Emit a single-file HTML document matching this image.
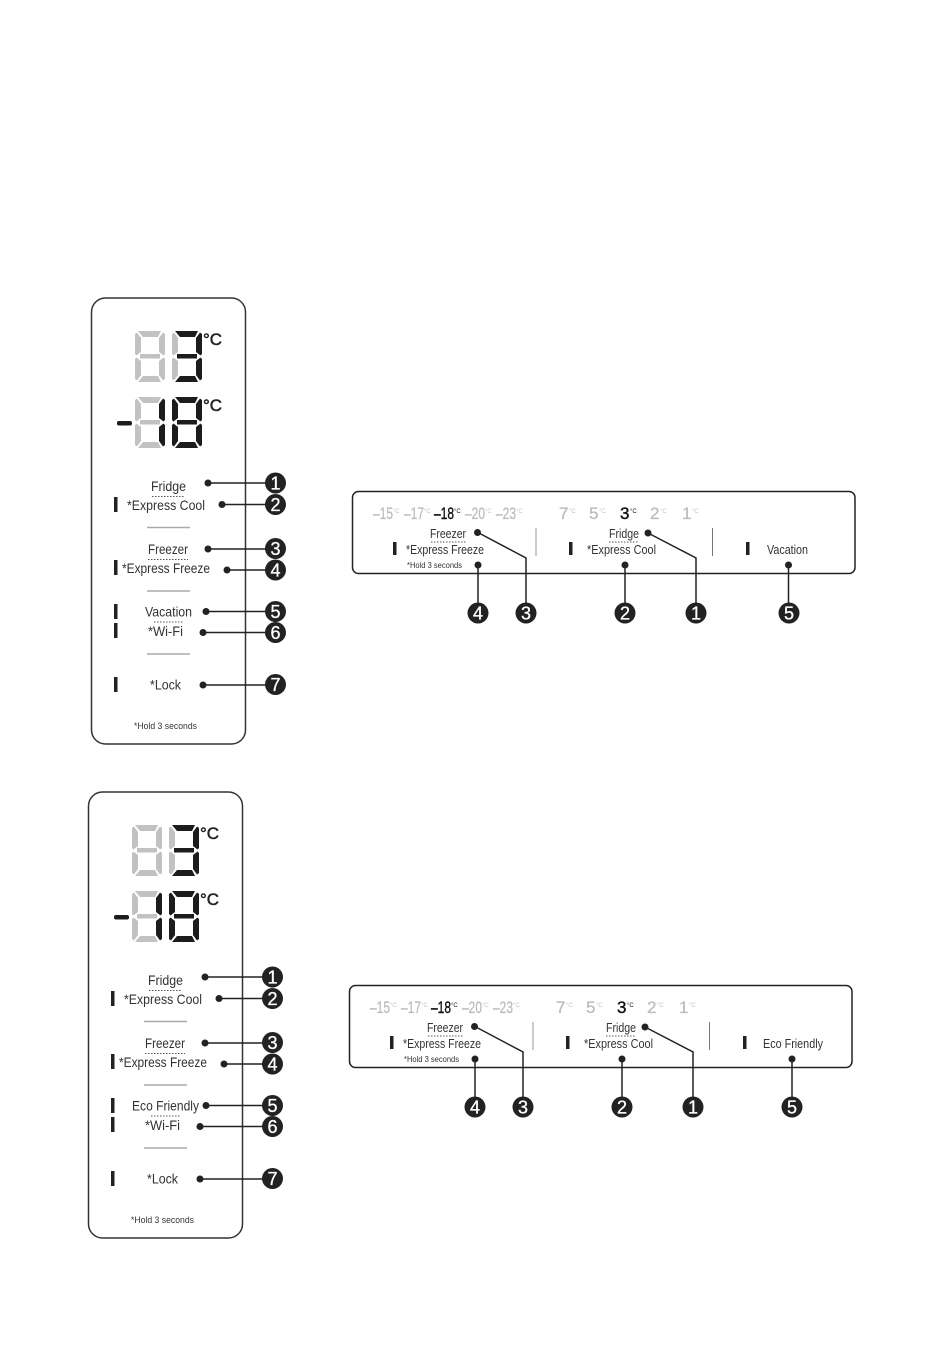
<!DOCTYPE html>
<html><head><meta charset="utf-8"><style>
html,body{margin:0;padding:0;background:#fff;width:950px;height:1366px;overflow:hidden}
svg{display:block}
text{font-family:"Liberation Sans",sans-serif;fill:#333}
.l{font-size:14px}.h{font-size:9px}.s{font-size:8px}.r{font-size:12.5px}
.g{font-size:17px;fill:#bcbcbc;stroke:#bcbcbc;stroke-width:.3}.gs{font-size:6px;fill:#c4c4c4}
.d{font-size:17px;fill:#111;stroke:#111;stroke-width:.4}.ds{font-size:6px;fill:#111}
.n{font-size:18px;fill:#fff;stroke:#fff;stroke-width:.3;text-anchor:middle}
.c{font-size:17px;fill:#222;stroke:#222;stroke-width:.5}
.ln{stroke:#222;stroke-width:1.5;fill:none}
.dot{stroke:#555;stroke-width:1;stroke-dasharray:1.5 1.5}
.sep{stroke:#aaa;stroke-width:1.5}
</style></head><body>
<svg width="950" height="1366" viewBox="0 0 950 1366" xmlns="http://www.w3.org/2000/svg">
<defs>
<polygon id="t" points="3,0 26,0 23,6 8,6"/>
<polygon id="b" points="8,45 23,45 26,51 3,51"/>
<rect id="m" x="5" y="23" width="20" height="4.500"/>
<polygon id="ul" points="0,3 2,1.500 6,7 6,21 1.500,24.500 0,23"/>
<polygon id="ll" points="0,28 1.500,26.500 6,30 6,44 2,49.500 0,48"/>
<polygon id="ur" points="30,3 28,1.500 24,7 24,21 28.500,24.500 30,23"/>
<polygon id="lr" points="30,28 28.500,26.500 24,30 24,44 28,49.500 30,48"/>
</defs>
<rect width="950" height="1366" fill="#fff"/>

<!-- GROUP 1 -->
<g>
<rect x="91.500" y="298" width="154" height="446" rx="14" fill="#fff" stroke="#333" stroke-width="1.500"/>
<g transform="translate(135,331)" fill="#c2c2c2"><use href="#t"/><use href="#b"/><use href="#m"/><use href="#ul"/><use href="#ll"/><use href="#ur"/><use href="#lr"/></g>
<g transform="translate(172,331)"><g fill="#c2c2c2"><use href="#ul"/><use href="#ll"/></g><g fill="#1c1c1c"><use href="#t"/><use href="#b"/><use href="#m"/><use href="#ur"/><use href="#lr"/></g></g>
<text x="203" y="345" class="c" textLength="19" lengthAdjust="spacingAndGlyphs">°C</text>
<rect x="117" y="421" width="15" height="4.500" rx="2" fill="#1c1c1c"/>
<g transform="translate(135,397)"><g fill="#c2c2c2"><use href="#t"/><use href="#b"/><use href="#m"/><use href="#ul"/><use href="#ll"/></g><g fill="#1c1c1c"><use href="#ur"/><use href="#lr"/></g></g>
<g transform="translate(172,397)" fill="#1c1c1c"><use href="#t"/><use href="#b"/><use href="#m"/><use href="#ul"/><use href="#ll"/><use href="#ur"/><use href="#lr"/></g>
<text x="203" y="411" class="c" textLength="19" lengthAdjust="spacingAndGlyphs">°C</text>

<text x="151" y="491" class="l" textLength="35" lengthAdjust="spacingAndGlyphs">Fridge</text>
<line x1="152" y1="496.500" x2="185" y2="496.500" class="dot"/>
<text x="127" y="510" class="l" textLength="78" lengthAdjust="spacingAndGlyphs">*Express Cool</text>
<line x1="147" y1="527.500" x2="190" y2="527.500" class="sep"/>
<text x="148" y="554" class="l" textLength="40" lengthAdjust="spacingAndGlyphs">Freezer</text>
<line x1="148" y1="559.500" x2="188" y2="559.500" class="dot"/>
<text x="122" y="573" class="l" textLength="88" lengthAdjust="spacingAndGlyphs">*Express Freeze</text>
<line x1="147" y1="591" x2="190" y2="591" class="sep"/>
<text x="145" y="616.500" class="l" textLength="47" lengthAdjust="spacingAndGlyphs">Vacation</text>
<line x1="154" y1="622" x2="183" y2="622" class="dot"/>
<text x="148" y="636" class="l" textLength="35" lengthAdjust="spacingAndGlyphs">*Wi-Fi</text>
<line x1="147" y1="654" x2="190" y2="654" class="sep"/>
<text x="150" y="689.500" class="l" textLength="31" lengthAdjust="spacingAndGlyphs">*Lock</text>
<text x="134" y="729" class="h" textLength="63" lengthAdjust="spacingAndGlyphs">*Hold 3 seconds</text>
<g fill="#222"><rect x="114" y="497" width="3.500" height="15"/><rect x="114" y="560" width="3.500" height="15"/><rect x="114" y="604" width="3.500" height="15"/><rect x="114" y="623" width="3.500" height="15"/><rect x="114" y="677" width="3.500" height="15"/>
<circle cx="208" cy="483" r="3.500"/><circle cx="222" cy="504.500" r="3.500"/><circle cx="208" cy="549" r="3.500"/><circle cx="227" cy="570" r="3.500"/><circle cx="206" cy="611.500" r="3.500"/><circle cx="203" cy="632.500" r="3.500"/><circle cx="203" cy="685" r="3.500"/>
<circle cx="275.500" cy="483" r="10.500"/><circle cx="275.500" cy="504.500" r="10.500"/><circle cx="275.500" cy="548.500" r="10.500"/><circle cx="275.500" cy="570" r="10.500"/><circle cx="275.500" cy="611.500" r="10.500"/><circle cx="275.500" cy="632.500" r="10.500"/><circle cx="275.500" cy="684.500" r="10.500"/></g>
<path class="ln" d="M208 483H270M222 504.500H270M208 549H270M227 570H270M206 611.500H270M203 632.500H270M203 685H270"/>
<text x="275.500" y="489.500" class="n">1</text><text x="275.500" y="511" class="n">2</text><text x="275.500" y="555" class="n">3</text><text x="275.500" y="576.500" class="n">4</text><text x="275.500" y="618" class="n">5</text><text x="275.500" y="639" class="n">6</text><text x="275.500" y="691" class="n">7</text>

<rect x="352.500" y="491.500" width="502.500" height="82" rx="6" fill="#fff" stroke="#222" stroke-width="1.500"/>
<text x="373" y="519" class="g" textLength="20" lengthAdjust="spacingAndGlyphs">–15</text><text x="393" y="513" class="gs">°C</text>
<text x="404" y="519" class="g" textLength="20" lengthAdjust="spacingAndGlyphs">–17</text><text x="424" y="513" class="gs">°C</text>
<text x="434" y="519" class="d" textLength="20" lengthAdjust="spacingAndGlyphs">–18</text><text x="454" y="513" class="ds">°C</text>
<text x="465" y="519" class="g" textLength="20" lengthAdjust="spacingAndGlyphs">–20</text><text x="485" y="513" class="gs">°C</text>
<text x="496" y="519" class="g" textLength="20" lengthAdjust="spacingAndGlyphs">–23</text><text x="516" y="513" class="gs">°C</text>
<text x="559" y="519" class="g">7</text><text x="569" y="513" class="gs">°C</text>
<text x="589" y="519" class="g">5</text><text x="599" y="513" class="gs">°C</text>
<text x="620" y="519" class="d">3</text><text x="630" y="513" class="ds">°C</text>
<text x="650" y="519" class="g">2</text><text x="660" y="513" class="gs">°C</text>
<text x="682" y="519" class="g">1</text><text x="692" y="513" class="gs">°C</text>
<text x="430" y="538" class="r" textLength="36" lengthAdjust="spacingAndGlyphs">Freezer</text>
<line x1="431" y1="542" x2="466" y2="542" class="dot"/>
<text x="406" y="554" class="r" textLength="78" lengthAdjust="spacingAndGlyphs">*Express Freeze</text>
<text x="407" y="568" class="s" textLength="55" lengthAdjust="spacingAndGlyphs">*Hold 3 seconds</text>
<text x="609" y="538" class="r" textLength="30" lengthAdjust="spacingAndGlyphs">Fridge</text>
<line x1="609" y1="542" x2="639" y2="542" class="dot"/>
<text x="587" y="554" class="r" textLength="69" lengthAdjust="spacingAndGlyphs">*Express Cool</text>
<text x="767" y="554" class="r" textLength="41" lengthAdjust="spacingAndGlyphs">Vacation</text>
<line x1="536" y1="528" x2="536" y2="556" stroke="#999" stroke-width="1"/>
<line x1="712.500" y1="528" x2="712.500" y2="556" stroke="#777" stroke-width="1"/>
<path class="ln" d="M477 532L526 558V605M478 565V605M648 533L696 558V605M625 565V605M788.500 565V605"/>
<g fill="#222"><rect x="393" y="542" width="3.500" height="13"/><rect x="569" y="542" width="3.500" height="13"/><rect x="746" y="542" width="3.500" height="13"/>
<circle cx="477.500" cy="532.500" r="3.500"/><circle cx="478" cy="565" r="3.500"/><circle cx="648" cy="533" r="3.500"/><circle cx="625" cy="565" r="3.500"/><circle cx="788.500" cy="565" r="3.500"/>
<circle cx="478" cy="613" r="10.500"/><circle cx="526" cy="613" r="10.500"/><circle cx="625" cy="613" r="10.500"/><circle cx="696" cy="613" r="10.500"/><circle cx="789" cy="613" r="10.500"/></g>
<text x="478" y="619.500" class="n">4</text><text x="526" y="619.500" class="n">3</text><text x="625" y="619.500" class="n">2</text><text x="696" y="619.500" class="n">1</text><text x="789" y="619.500" class="n">5</text>
</g>

<!-- GROUP 2 -->
<g transform="translate(-3,494)">
<rect x="91.500" y="298" width="154" height="446" rx="14" fill="#fff" stroke="#333" stroke-width="1.500"/>
<g transform="translate(135,331)" fill="#c2c2c2"><use href="#t"/><use href="#b"/><use href="#m"/><use href="#ul"/><use href="#ll"/><use href="#ur"/><use href="#lr"/></g>
<g transform="translate(172,331)"><g fill="#c2c2c2"><use href="#ul"/><use href="#ll"/></g><g fill="#1c1c1c"><use href="#t"/><use href="#b"/><use href="#m"/><use href="#ur"/><use href="#lr"/></g></g>
<text x="203" y="345" class="c" textLength="19" lengthAdjust="spacingAndGlyphs">°C</text>
<rect x="117" y="421" width="15" height="4.500" rx="2" fill="#1c1c1c"/>
<g transform="translate(135,397)"><g fill="#c2c2c2"><use href="#t"/><use href="#b"/><use href="#m"/><use href="#ul"/><use href="#ll"/></g><g fill="#1c1c1c"><use href="#ur"/><use href="#lr"/></g></g>
<g transform="translate(172,397)" fill="#1c1c1c"><use href="#t"/><use href="#b"/><use href="#m"/><use href="#ul"/><use href="#ll"/><use href="#ur"/><use href="#lr"/></g>
<text x="203" y="411" class="c" textLength="19" lengthAdjust="spacingAndGlyphs">°C</text>

<text x="151" y="491" class="l" textLength="35" lengthAdjust="spacingAndGlyphs">Fridge</text>
<line x1="152" y1="496.500" x2="185" y2="496.500" class="dot"/>
<text x="127" y="510" class="l" textLength="78" lengthAdjust="spacingAndGlyphs">*Express Cool</text>
<line x1="147" y1="527.500" x2="190" y2="527.500" class="sep"/>
<text x="148" y="554" class="l" textLength="40" lengthAdjust="spacingAndGlyphs">Freezer</text>
<line x1="148" y1="559.500" x2="188" y2="559.500" class="dot"/>
<text x="122" y="573" class="l" textLength="88" lengthAdjust="spacingAndGlyphs">*Express Freeze</text>
<line x1="147" y1="591" x2="190" y2="591" class="sep"/>
<text x="135" y="616.500" class="l" textLength="67" lengthAdjust="spacingAndGlyphs">Eco Friendly</text>
<line x1="154" y1="622" x2="183" y2="622" class="dot"/>
<text x="148" y="636" class="l" textLength="35" lengthAdjust="spacingAndGlyphs">*Wi-Fi</text>
<line x1="147" y1="654" x2="190" y2="654" class="sep"/>
<text x="150" y="689.500" class="l" textLength="31" lengthAdjust="spacingAndGlyphs">*Lock</text>
<text x="134" y="729" class="h" textLength="63" lengthAdjust="spacingAndGlyphs">*Hold 3 seconds</text>
<g fill="#222"><rect x="114" y="497" width="3.500" height="15"/><rect x="114" y="560" width="3.500" height="15"/><rect x="114" y="604" width="3.500" height="15"/><rect x="114" y="623" width="3.500" height="15"/><rect x="114" y="677" width="3.500" height="15"/>
<circle cx="208" cy="483" r="3.500"/><circle cx="222" cy="504.500" r="3.500"/><circle cx="208" cy="549" r="3.500"/><circle cx="227" cy="570" r="3.500"/><circle cx="209" cy="611.500" r="3.500"/><circle cx="203" cy="632.500" r="3.500"/><circle cx="203" cy="685" r="3.500"/>
<circle cx="275.500" cy="483" r="10.500"/><circle cx="275.500" cy="504.500" r="10.500"/><circle cx="275.500" cy="548.500" r="10.500"/><circle cx="275.500" cy="570" r="10.500"/><circle cx="275.500" cy="611.500" r="10.500"/><circle cx="275.500" cy="632.500" r="10.500"/><circle cx="275.500" cy="684.500" r="10.500"/></g>
<path class="ln" d="M208 483H270M222 504.500H270M208 549H270M227 570H270M209 611.500H270M203 632.500H270M203 685H270"/>
<text x="275.500" y="489.500" class="n">1</text><text x="275.500" y="511" class="n">2</text><text x="275.500" y="555" class="n">3</text><text x="275.500" y="576.500" class="n">4</text><text x="275.500" y="618" class="n">5</text><text x="275.500" y="639" class="n">6</text><text x="275.500" y="691" class="n">7</text>

<rect x="352.500" y="491.500" width="502.500" height="82" rx="6" fill="#fff" stroke="#222" stroke-width="1.500"/>
<text x="373" y="519" class="g" textLength="20" lengthAdjust="spacingAndGlyphs">–15</text><text x="393" y="513" class="gs">°C</text>
<text x="404" y="519" class="g" textLength="20" lengthAdjust="spacingAndGlyphs">–17</text><text x="424" y="513" class="gs">°C</text>
<text x="434" y="519" class="d" textLength="20" lengthAdjust="spacingAndGlyphs">–18</text><text x="454" y="513" class="ds">°C</text>
<text x="465" y="519" class="g" textLength="20" lengthAdjust="spacingAndGlyphs">–20</text><text x="485" y="513" class="gs">°C</text>
<text x="496" y="519" class="g" textLength="20" lengthAdjust="spacingAndGlyphs">–23</text><text x="516" y="513" class="gs">°C</text>
<text x="559" y="519" class="g">7</text><text x="569" y="513" class="gs">°C</text>
<text x="589" y="519" class="g">5</text><text x="599" y="513" class="gs">°C</text>
<text x="620" y="519" class="d">3</text><text x="630" y="513" class="ds">°C</text>
<text x="650" y="519" class="g">2</text><text x="660" y="513" class="gs">°C</text>
<text x="682" y="519" class="g">1</text><text x="692" y="513" class="gs">°C</text>
<text x="430" y="538" class="r" textLength="36" lengthAdjust="spacingAndGlyphs">Freezer</text>
<line x1="431" y1="542" x2="466" y2="542" class="dot"/>
<text x="406" y="554" class="r" textLength="78" lengthAdjust="spacingAndGlyphs">*Express Freeze</text>
<text x="407" y="568" class="s" textLength="55" lengthAdjust="spacingAndGlyphs">*Hold 3 seconds</text>
<text x="609" y="538" class="r" textLength="30" lengthAdjust="spacingAndGlyphs">Fridge</text>
<line x1="609" y1="542" x2="639" y2="542" class="dot"/>
<text x="587" y="554" class="r" textLength="69" lengthAdjust="spacingAndGlyphs">*Express Cool</text>
<text x="766" y="554" class="r" textLength="60" lengthAdjust="spacingAndGlyphs">Eco Friendly</text>
<line x1="536" y1="528" x2="536" y2="556" stroke="#999" stroke-width="1"/>
<line x1="712.500" y1="528" x2="712.500" y2="556" stroke="#777" stroke-width="1"/>
<path class="ln" d="M477 532L526 558V605M478 565V605M648 533L696 558V605M625 565V605M795 565V605"/>
<g fill="#222"><rect x="393" y="542" width="3.500" height="13"/><rect x="569" y="542" width="3.500" height="13"/><rect x="746" y="542" width="3.500" height="13"/>
<circle cx="477.500" cy="532.500" r="3.500"/><circle cx="478" cy="565" r="3.500"/><circle cx="648" cy="533" r="3.500"/><circle cx="625" cy="565" r="3.500"/><circle cx="795" cy="565" r="3.500"/>
<circle cx="478" cy="613" r="10.500"/><circle cx="526" cy="613" r="10.500"/><circle cx="625" cy="613" r="10.500"/><circle cx="696" cy="613" r="10.500"/><circle cx="795" cy="613" r="10.500"/></g>
<text x="478" y="619.500" class="n">4</text><text x="526" y="619.500" class="n">3</text><text x="625" y="619.500" class="n">2</text><text x="696" y="619.500" class="n">1</text><text x="795" y="619.500" class="n">5</text>
</g>
</svg>
</body></html>
